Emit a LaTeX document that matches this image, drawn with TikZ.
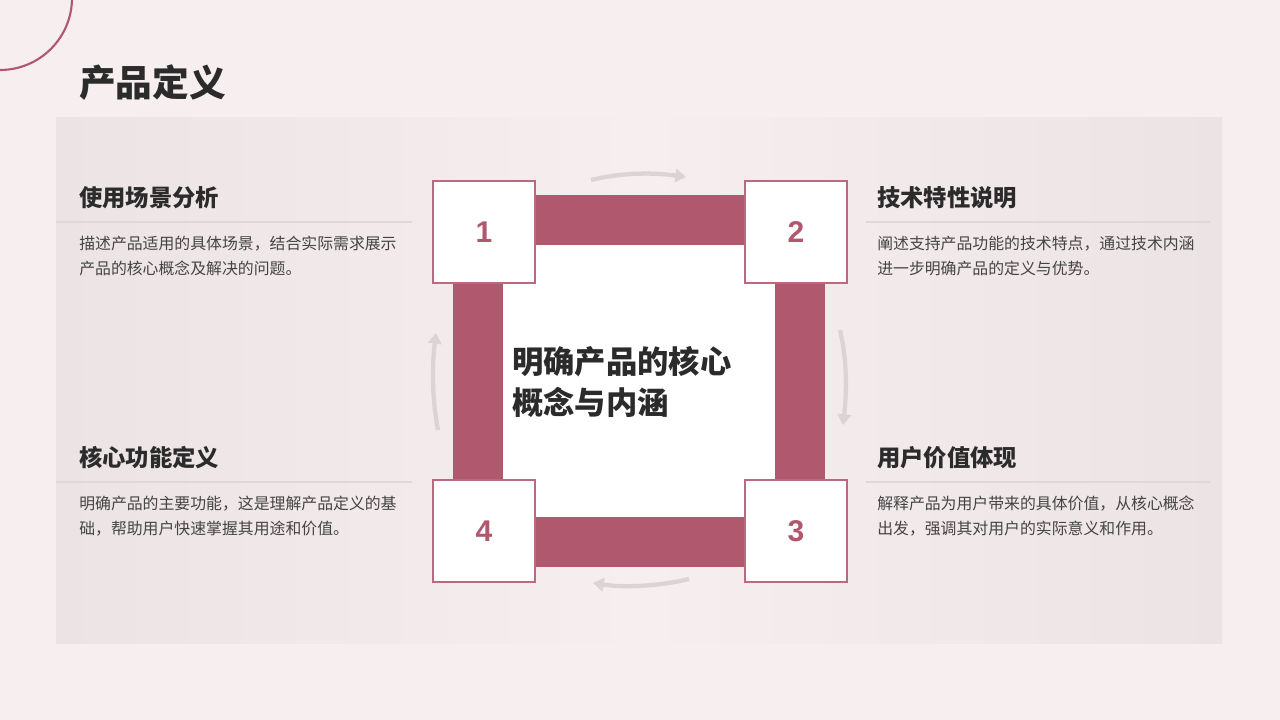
\documentclass[tikz,border=0pt]{standalone}
\usepackage{fontspec}
\setmainfont{Noto Sans CJK SC}
\newfontfamily\numfont{Liberation Sans}
\usetikzlibrary{arrows.meta}
\definecolor{bg}{HTML}{F7EEF0}
\definecolor{panel}{HTML}{EBE3E4}
\definecolor{rose}{HTML}{B0586E}
\definecolor{roseedge}{HTML}{B86A80}
\definecolor{darktext}{HTML}{2B2B2B}
\definecolor{bodytext}{HTML}{444444}
\definecolor{rule}{HTML}{E2D6D8}
\definecolor{arrowgrey}{HTML}{DDD3D5}
\tikzset{
  numbox/.style={draw=roseedge, line width=1.2pt, fill=white, minimum width=76.5pt, minimum height=76.5pt, inner sep=0pt, font=\numfont\fontsize{22.5}{26}\selectfont\bfseries, text=rose},
  bar/.style={fill=rose, draw=none},
  heading/.style={anchor=west, inner sep=0pt, font=\fontsize{17.5}{21}\selectfont\bfseries, text=darktext},
  body/.style={anchor=north west, inner sep=0pt, align=left, font=\fontsize{11.9}{18.75}\selectfont, text=bodytext},
  sep/.style={draw=rule, line width=0.8pt},
  cyc/.style={draw=arrowgrey, line width=3.2pt, -{Triangle[length=8pt,width=10pt]}}
}
\begin{document}
\begin{tikzpicture}[x=0.75pt, y=-0.75pt]
\useasboundingbox (0,0) rectangle (1280,720);
\fill[bg] (0,0) rectangle (1280,720);
% panel
\shade[left color=panel, right color=bg] (56,118) rectangle (640,643);
\shade[left color=bg, right color=panel] (640,118) rectangle (1222,643);
% circle decoration
\draw[rose, line width=1.6pt] (0,-2) circle[radius=72];
% title
\node[anchor=west, inner sep=0pt, font=\fontsize{27.5}{32}\selectfont\bfseries, text=darktext] (title) at (79,83) {产品定义};
% central square
\fill[white] (453,245) rectangle (825,517);
\fill[bar] (535,195) rectangle (745,245);
\fill[bar] (535,517) rectangle (745,567);
\fill[bar] (453,283) rectangle (503,480);
\fill[bar] (775,283) rectangle (825,480);
\node[numbox] (b1) at (484,232) {1};
\node[numbox] (b2) at (796,232) {2};
\node[numbox] (b3) at (796,531) {3};
\node[numbox] (b4) at (484,531) {4};
\node[anchor=west, inner sep=0pt, align=left, font=\fontsize{23.5}{31}\selectfont\bfseries, text=darktext] (center) at (512,382) {明确产品的核心\\概念与内涵};
% cycle arrows
\coordinate (a1s) at (591,180); \coordinate (a1e) at (686,177);
\draw[cyc] (a1s) .. controls (620,173) and (650,172) .. (a1e);
\coordinate (a2s) at (840,330); \coordinate (a2e) at (843,425);
\draw[cyc] (a2s) .. controls (847,360) and (847,390) .. (a2e);
\coordinate (a3s) at (689,579); \coordinate (a3e) at (593,583);
\draw[cyc] (a3s) .. controls (660,586) and (625,588) .. (a3e);
\coordinate (a4s) at (438,430); \coordinate (a4e) at (436,333);
\draw[cyc] (a4s) .. controls (432,400) and (432,365) .. (a4e);
% left top
\node[heading] (h1) at (79,198) {使用场景分析};
\coordinate (l1a) at (56,222); \coordinate (l1b) at (412,222);
\draw[sep] (l1a) -- (l1b);
\node[body] (t1) at (79,236) {描述产品适用的具体场景，结合实际需求展示\\产品的核心概念及解决的问题。};
% left bottom
\node[heading] (h4) at (79,458) {核心功能定义};
\coordinate (l4a) at (56,482); \coordinate (l4b) at (412,482);
\draw[sep] (l4a) -- (l4b);
\node[body] (t4) at (79,496) {明确产品的主要功能，这是理解产品定义的基\\础，帮助用户快速掌握其用途和价值。};
% right top
\node[heading] (h2) at (877,198) {技术特性说明};
\coordinate (l2a) at (866,222); \coordinate (l2b) at (1210,222);
\draw[sep] (l2a) -- (l2b);
\node[body] (t2) at (877,236) {阐述支持产品功能的技术特点，通过技术内涵\\进一步明确产品的定义与优势。};
% right bottom
\node[heading] (h3) at (877,458) {用户价值体现};
\coordinate (l3a) at (866,482); \coordinate (l3b) at (1210,482);
\draw[sep] (l3a) -- (l3b);
\node[body] (t3) at (877,496) {解释产品为用户带来的具体价值，从核心概念\\出发，强调其对用户的实际意义和作用。};
\end{tikzpicture}
\end{document}
